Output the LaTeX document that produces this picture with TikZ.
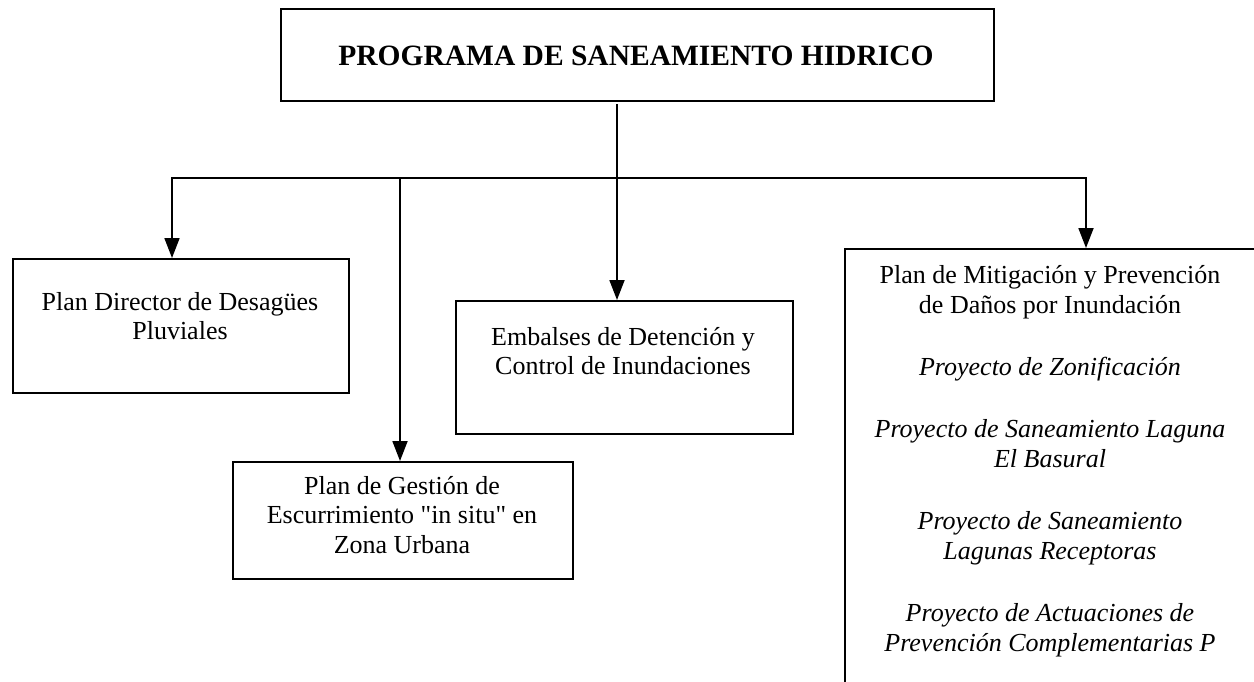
\documentclass[tikz,border=0pt]{standalone}
\usepackage{fontspec}
\setmainfont{Liberation Serif}[Ligatures=TeXOff]
\usetikzlibrary{arrows.meta}
\begin{document}
\begin{tikzpicture}[x=1pt,y=-1pt,
  box/.style={draw=black,line width=2.2pt,rectangle,inner sep=0pt,anchor=north west},
  txt/.style={anchor=base,inner sep=0pt,font=\fontsize{26}{30}\selectfont},
  itxt/.style={txt,font=\fontsize{26}{30}\selectfont\itshape},
  conn/.style={draw=black,line width=1.8pt},
  tip/.style={-{Triangle[length=20pt,width=15pt]}},
  dtip/.style={{Triangle[length=20pt,width=15pt]}-{Triangle[length=20pt,width=15pt]}}]
\clip (0,0) rectangle (1254,681);
\fill[white] (0,0) rectangle (1254,681);
% title
\node[box,minimum width=713pt,minimum height=92pt] (title) at (280,8) {};
\node[anchor=base,inner sep=0pt,font=\fontsize{29.5}{34}\selectfont\bfseries] (titlet) at (636,65) {PROGRAMA DE SANEAMIENTO HIDRICO};
% boxes
\node[box,minimum width=336pt,minimum height=134pt] (pd) at (12,258) {};
\node[txt] (pd1) at (180,310) {Plan Director de Desagües};
\node[txt] (pd2) at (180,339.5) {Pluviales};
\node[box,minimum width=340pt,minimum height=117pt] (ges) at (232,461) {};
\node[txt] (ge1) at (402,494) {Plan de Gestión de};
\node[txt] (ge2) at (402,523.5) {Escurrimiento "in situ" en};
\node[txt] (ge3) at (402,553) {Zona Urbana};
\node[box,minimum width=337pt,minimum height=133pt] (emb) at (455,300) {};
\node[txt] (em1) at (623,345) {Embalses de Detención y};
\node[txt] (em2) at (623,374.5) {Control de Inundaciones};
\node[box,minimum width=412pt,minimum height=500pt] (mit) at (844,248) {};
\node[txt] (mi1) at (1050,283) {Plan de Mitigación y Prevención};
\node[txt] (mi2) at (1050,313) {de Daños por Inundación};
\node[itxt] (mi3) at (1050,375) {Proyecto de Zonificación};
\node[itxt] (mi4) at (1050,437) {Proyecto de Saneamiento Laguna};
\node[itxt] (mi5) at (1050,467) {El Basural};
\node[itxt] (mi6) at (1050,529) {Proyecto de Saneamiento};
\node[itxt] (mi7) at (1050,559) {Lagunas Receptoras};
\node[itxt] (mi8) at (1050,621) {Proyecto de Actuaciones de};
\node[itxt] (mi9) at (1050,651) {Prevención Complementarias P};
% connectors
\coordinate (c0) at (617,104);
\coordinate (hl) at (172,178);
\coordinate (hr) at (1086,178);
\coordinate (hg) at (400,178);
\draw[conn,tip] (c0) -- (c0 |- emb.north);
\draw[conn,dtip] (hl |- pd.north) -- (hl) -- (hr) -- (hr |- mit.north);
\draw[conn,tip] (hg) -- (hg |- ges.north);
\end{tikzpicture}
\end{document}
